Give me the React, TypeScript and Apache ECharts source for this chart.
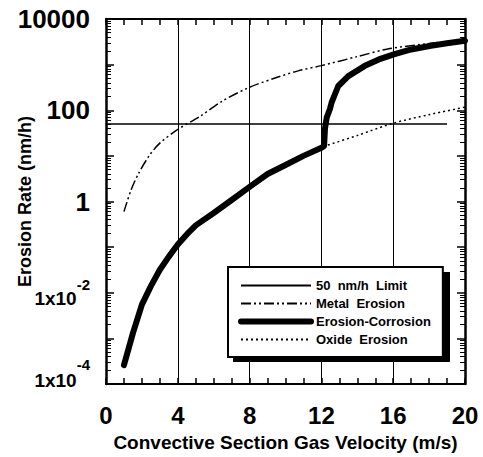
import React, { useEffect, useRef } from "react";
import * as echarts from "echarts";

const xLabelValues = [0, 4, 8, 12, 16, 20];
const xGridValues = [4, 8, 12, 16];
const xSmallTicks = [1, 2, 3, 5, 6, 7, 9, 10, 11, 13, 14, 15, 17, 18, 19];
const yLabelExps = [4, 2, 0, -2, -4];
const yDecades = [1e-4, 1e-3, 1e-2, 1e-1, 1, 10, 100, 1000];
const yMinorMultipliers = [2, 3, 4, 5, 6, 7, 8, 9];

const limitData: [number, number][] = [[0, 50], [19, 50]];
const metalData: [number, number][] = [
  [1, 0.6], [1.4, 1.8], [1.8, 4], [2.4, 10], [3, 19], [4, 38], [5.2, 72], [6.5, 160],
  [8, 320], [9.5, 520], [10.7, 730], [12, 950], [14, 1500], [15.7, 2200], [18, 2900], [20, 3500],
];
const ecData: [number, number][] = [
  [1, 2.6e-4], [1.5, 1.3e-3], [2, 5.5e-3], [2.5, 0.014], [3, 0.032], [3.5, 0.062], [4, 0.114],
  [4.5, 0.19], [5, 0.3], [6, 0.56], [7, 1.08], [8, 2.1], [9, 4.0], [10, 6.3], [11, 10], [12, 15],
  [12.15, 16.5], [12.2, 40], [12.3, 70], [12.47, 105], [12.57, 148], [12.94, 340], [13.5, 560],
  [14.42, 940], [15.2, 1300], [16.08, 1700], [17, 2150], [18.1, 2600], [19, 2950], [20, 3350],
];
const oxideData: [number, number][] = [[12.1, 16], [14, 28], [16, 52], [18, 80], [20, 117]];

const FONT = "Liberation Sans";
// tick lengths expressed in data units (about 6 px and 5 px)
const X_TICK_FACTOR = 1.35;
const Y_TICK_LEN = 0.28;

export default function App() {
  const ref = useRef<HTMLDivElement>(null);
  useEffect(() => {
    const chart = echarts.init(ref.current!, null, { renderer: "svg" });
    const yMinorValues: number[] = [];
    yDecades.forEach((d) => yMinorMultipliers.forEach((m) => yMinorValues.push(d * m)));

    const tickStyle = { color: "#000", width: 1.5, type: "solid" };
    const minorStyle = { color: "#000", width: 1, type: "solid" };
    const markData: any[] = [];
    xGridValues.forEach((v) => markData.push({ xAxis: v }));
    xSmallTicks.forEach((v) => {
      markData.push([{ coord: [v, 1e-4], lineStyle: tickStyle }, { coord: [v, 1e-4 * X_TICK_FACTOR] }]);
      markData.push([{ coord: [v, 1e4], lineStyle: tickStyle }, { coord: [v, 1e4 / X_TICK_FACTOR] }]);
    });
    yMinorValues.forEach((v) => {
      markData.push([{ coord: [0, v], lineStyle: minorStyle }, { coord: [Y_TICK_LEN, v] }]);
      markData.push([{ coord: [20, v], lineStyle: minorStyle }, { coord: [20 - Y_TICK_LEN, v] }]);
    });

    const xAxisBase = {
      type: "value" as const,
      min: 0,
      max: 20,
      interval: 4,
      axisLine: { show: true, onZero: false, lineStyle: { color: "#000", width: 2 } },
      axisTick: { show: true, inside: true, length: 6, lineStyle: { color: "#000", width: 1.5 } },
      splitLine: { show: false },
    };
    const yAxisBase = {
      type: "log" as const,
      logBase: 10,
      min: 1e-4,
      max: 1e4,
      interval: 1,
      axisLine: { show: true, onZero: false, lineStyle: { color: "#000", width: 2.5 } },
      axisTick: { show: true, inside: true, length: 8, lineStyle: { color: "#000", width: 1.5 } },
      splitLine: { show: false },
    };
    chart.setOption({
      animation: false,
      backgroundColor: "#fff",
      grid: { left: 106, right: 18, top: 19, bottom: 73, outerBoundsMode: "none", containLabel: false },
      xAxis: [
        {
          ...xAxisBase,
          position: "bottom",
          axisLabel: {
            show: true,
            margin: 19,
            fontFamily: FONT,
            fontWeight: "bold",
            fontSize: 24,
            color: "#000",
            formatter: (v: number) => (xLabelValues.includes(v) ? String(v) : ""),
          },
          name: "Convective Section Gas Velocity (m/s)",
          nameLocation: "middle",
          nameGap: 49,
          nameMoveOverlap: false,
          nameTextStyle: { fontFamily: FONT, fontWeight: "bold", fontSize: 19, color: "#000" },
        },
        { ...xAxisBase, position: "top", axisLabel: { show: false } },
      ],
      yAxis: [
        {
          ...yAxisBase,
          position: "left",
          axisLabel: {
            show: true,
            margin: 16,
            fontFamily: FONT,
            fontWeight: "bold",
            fontSize: 26,
            color: "#000",
            formatter: (v: number) => {
              const e = Math.round(Math.log10(v));
              if (!yLabelExps.includes(e)) return "";
              if (e >= 0) return String(Math.round(v));
              if (e === -4) return "{c|1x10}{d|" + e + "}";
              return "{b|1x10}{sup|" + e + "}";
            },
            rich: {
              b: { fontFamily: FONT, fontWeight: "bold", fontSize: 19, color: "#000", verticalAlign: "bottom" },
              sup: { fontFamily: FONT, fontWeight: "bold", fontSize: 15, color: "#000", verticalAlign: "top", padding: [0, 0, 16, 0] },
              c: { fontFamily: FONT, fontWeight: "bold", fontSize: 19, color: "#000", verticalAlign: "bottom", padding: [0, 0, 22, 0] },
              d: { fontFamily: FONT, fontWeight: "bold", fontSize: 15, color: "#000", verticalAlign: "top", padding: [0, 0, 40, 0] },
            },
          },
          name: "Erosion Rate (nm/h)",
          nameLocation: "middle",
          nameGap: 72,
          nameMoveOverlap: false,
          nameTextStyle: { fontFamily: FONT, fontWeight: "bold", fontSize: 18, color: "#000" },
        },
        { ...yAxisBase, position: "right", axisLabel: { show: false } },
      ],
      legend: {
        orient: "vertical",
        left: 228,
        top: 267,
        padding: [12, 12, 11, 10],
        itemWidth: 70,
        itemHeight: 13,
        itemGap: 5,
        backgroundColor: "#fff",
        borderColor: "#000",
        borderWidth: 2,
        z: 10,
        itemStyle: { color: "rgba(0,0,0,0)", borderWidth: 0 },
        textStyle: { fontFamily: FONT, fontWeight: "bold", fontSize: 13, color: "#000" },
        data: [
          { name: "50  nm/h  Limit" },
          { name: "Metal  Erosion" },
          { name: "Erosion-Corrosion", lineStyle: { width: 6 } },
          { name: "Oxide  Erosion" },
        ],
      },
      graphic: [
        { type: "rect", left: 233, top: 272, shape: { width: 217, height: 90 }, style: { fill: "#000" }, z: 5 },
      ],
      series: [
        {
          name: "50  nm/h  Limit",
          type: "line",
          data: limitData,
          symbol: "none",
          lineStyle: { color: "#000", width: 1.5 },
          z: 2,
          markLine: {
            silent: true,
            symbol: "none",
            label: { show: false },
            lineStyle: { color: "#000", width: 1, type: "solid" },
            data: markData,
          },
        },
        {
          name: "Metal  Erosion",
          type: "line",
          data: metalData,
          symbol: "none",
          smooth: 0.3,
          lineStyle: { color: "#000", width: 1.5, type: [10, 3, 2, 3, 2, 3] },
          z: 2,
        },
        {
          name: "Erosion-Corrosion",
          type: "line",
          data: ecData,
          symbol: "none",
          lineStyle: { color: "#000", width: 6, join: "round", cap: "round" },
          z: 3,
        },
        {
          name: "Oxide  Erosion",
          type: "line",
          data: oxideData,
          symbol: "none",
          smooth: 0.3,
          lineStyle: { color: "#000", width: 1.5, type: [2, 3] },
          z: 2,
        },
      ],
    });
    return () => chart.dispose();
  }, []);
  return <div ref={ref} style={{ width: 483, height: 457, position: "absolute", left: 0, top: 0 }} />;
}
